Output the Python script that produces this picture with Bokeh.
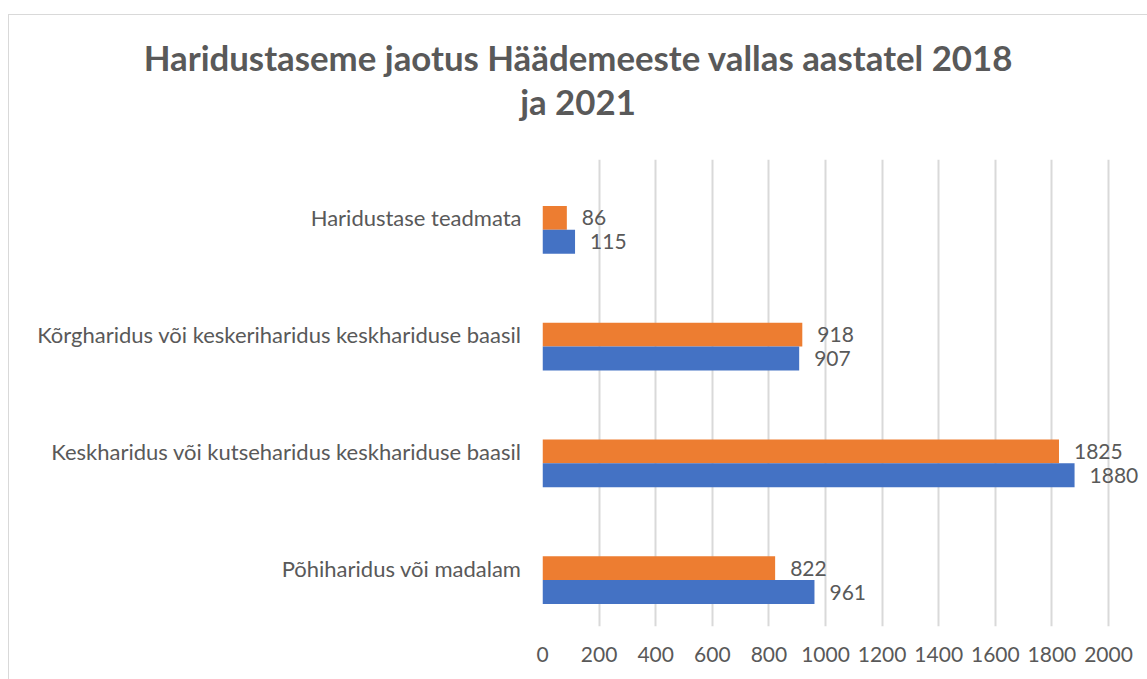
from bokeh.plotting import figure
from bokeh.models import Range1d, FactorRange, FixedTicker, ColumnDataSource, LabelSet, Div
from bokeh.layouts import column
from bokeh.core.properties import value
from bokeh.transform import dodge
from bokeh.embed import file_html
from bokeh.resources import INLINE

categories = ["Põhiharidus või madalam",
              "Keskharidus või kutseharidus keskhariduse baasil",
              "Kõrgharidus või keskeriharidus keskhariduse baasil",
              "Haridustase teadmata"]
values_2018 = [961, 1880, 907, 115]
values_2021 = [822, 1825, 918, 86]
x_ticks = [0, 200, 400, 600, 800, 1000, 1200, 1400, 1600, 1800, 2000]
title_line1 = "Haridustaseme jaotus Häädemeeste vallas aastatel 2018"
title_line2 = "ja 2021"

BLUE = "#4472C4"
ORANGE = "#ED7D31"
TXT = "#595959"
FONT = "Lato"

src = ColumnDataSource(dict(cat=categories, v18=values_2018, v21=values_2021,
                            l18=[str(v) for v in values_2018],
                            l21=[str(v) for v in values_2021]))

title_div = Div(
    text=(f'<div style="display:block;position:relative;left:7px;width:1124px;'
          f'font-family:{FONT};font-weight:bold;'
          f'font-size:34.8px;line-height:44px;color:{TXT};text-align:center;'
          f'padding-top:21px;">{title_line1}<br>{title_line2}</div>'),
    width=1138, height=120, margin=0)

p = figure(width=1138, height=544, y_range=FactorRange(*categories),
           x_range=Range1d(0, 2113), output_backend="svg", toolbar_location=None,
           min_border_left=533, min_border_right=7, min_border_top=24,
           min_border_bottom=53, margin=0)
p.outline_line_color = None

bar_h = 0.205
p.hbar(y=dodge("cat", 0.0, range=p.y_range), right="v21", left=0, height=bar_h,
       source=src, fill_color=ORANGE, line_color=None)
p.hbar(y=dodge("cat", -bar_h, range=p.y_range), right="v18", left=0, height=bar_h,
       source=src, fill_color=BLUE, line_color=None)

for field, lab, off in (("v21", "l21", 0.0), ("v18", "l18", -bar_h)):
    p.add_layout(LabelSet(x=field, y=dodge("cat", off, range=p.y_range), text=lab,
                          source=src, x_offset=15, text_baseline="middle",
                          text_align="left", text_font=value(FONT),
                          text_font_size="21px", text_color=TXT))

p.xaxis.ticker = FixedTicker(ticks=x_ticks)
p.xaxis.axis_line_color = None
p.xaxis.major_tick_line_color = None
p.xaxis.minor_tick_line_color = None
p.xaxis.major_label_text_font = FONT
p.xaxis.major_label_text_font_size = "21px"
p.xaxis.major_label_text_color = TXT
p.xaxis.major_label_standoff = 14

p.yaxis.axis_line_color = None
p.yaxis.major_tick_line_color = None
p.yaxis.major_label_text_font = FONT
p.yaxis.major_label_text_font_size = "22px"
p.yaxis.major_label_text_color = TXT
p.yaxis.major_label_standoff = 15

p.xgrid.grid_line_color = "#d9d9d9"
p.xgrid.grid_line_width = 2
p.ygrid.grid_line_color = None

layout = column(title_div, p, spacing=0, margin=(14, 0, 0, 8),
                styles={"border-top": "1px solid #d9d9d9",
                        "border-left": "1px solid #d9d9d9"})

open("out.html", "w").write(file_html(layout, INLINE))
